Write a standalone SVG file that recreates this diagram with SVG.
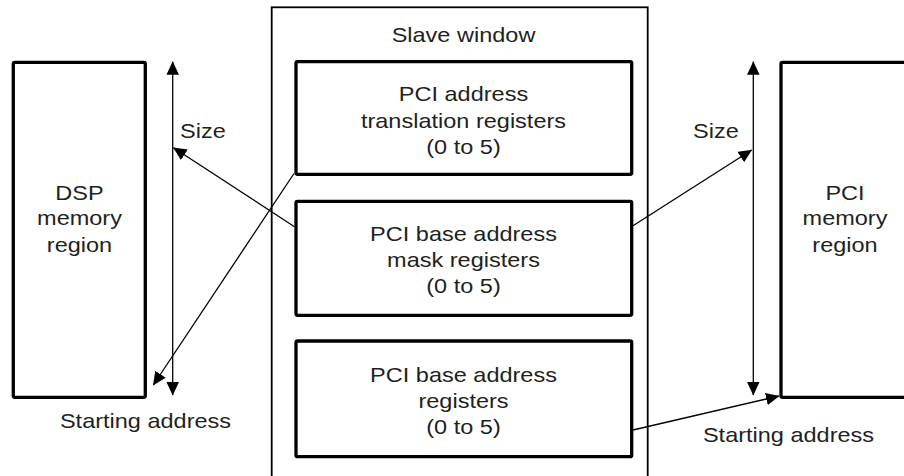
<svg xmlns="http://www.w3.org/2000/svg" width="904" height="476" viewBox="0 0 904 476">
<defs>
<marker id="ah" markerUnits="userSpaceOnUse" markerWidth="14" markerHeight="13" refX="13" refY="6.25" orient="auto-start-reverse" viewBox="0 0 14 13">
<path d="M0,0 L13.5,6.25 L0,12.5 z" fill="#000"/>
</marker>
<style>
.t{font-family:"Liberation Sans",Arial,sans-serif;font-size:21px;fill:#231f20;text-anchor:middle}
.tl{text-anchor:start}
.box{fill:#fff;stroke:#000;stroke-width:3.3}
.win{fill:#fff;stroke:#000;stroke-width:1.8}
.c{fill:none;stroke:#000;stroke-width:1.3}
</style>
</defs>
<rect width="904" height="476" fill="#fff"/>

<g id="slave-window">
<rect class="win" x="271.7" y="7.3" width="376" height="480"/>
<g transform="translate(463.5,0) scale(1.12,1)"><text class="t" x="0" y="41.7">Slave window</text></g>
</g>

<g id="pci-translation">
<rect class="box" x="296" y="61.7" width="335.7" height="112.6" rx="1.5"/>
<g transform="translate(463.5,0) scale(1.12,1)">
<text class="t" x="0" y="101.5">PCI address</text>
<text class="t" x="0" y="128">translation registers</text>
<text class="t" x="0" y="154.5">(0 to 5)</text>
</g>
</g>

<g id="pci-mask">
<rect class="box" x="296" y="201.3" width="335.7" height="114" rx="1.5"/>
<g transform="translate(463.5,0) scale(1.12,1)">
<text class="t" x="0" y="240.8">PCI base address</text>
<text class="t" x="0" y="267.3">mask registers</text>
<text class="t" x="0" y="293.5">(0 to 5)</text>
</g>
</g>

<g id="pci-base">
<rect class="box" x="296" y="341" width="335.7" height="115.7" rx="1.5"/>
<g transform="translate(463.5,0) scale(1.12,1)">
<text class="t" x="0" y="381.7">PCI base address</text>
<text class="t" x="0" y="408">registers</text>
<text class="t" x="0" y="434.3">(0 to 5)</text>
</g>
</g>

<g id="dsp-memory">
<rect class="box" x="13.3" y="62.3" width="132" height="335" rx="1.5"/>
<g transform="translate(79.5,0) scale(1.12,1)">
<text class="t" x="0" y="200">DSP</text>
<text class="t" x="0" y="225.5">memory</text>
<text class="t" x="0" y="252">region</text>
</g>
</g>

<g id="pci-memory">
<rect class="box" x="781" y="62.3" width="200" height="335" rx="1.5"/>
<g transform="translate(845,0) scale(1.12,1)">
<text class="t" x="0" y="200">PCI</text>
<text class="t" x="0" y="225.5">memory</text>
<text class="t" x="0" y="252">region</text>
</g>
</g>

<g id="labels">
<g transform="translate(180,0) scale(1.12,1)"><text class="t tl" x="0" y="138">Size</text></g>
<g transform="translate(693,0) scale(1.12,1)"><text class="t tl" x="0" y="138">Size</text></g>
<g transform="translate(145.5,0) scale(1.12,1)"><text class="t" x="0" y="428.3">Starting address</text></g>
<g transform="translate(788.5,0) scale(1.12,1)"><text class="t" x="0" y="442">Starting address</text></g>
</g>

<g id="connectors">
<line class="c" x1="172.7" y1="61.7" x2="172.7" y2="395" marker-start="url(#ah)" marker-end="url(#ah)"/>
<line class="c" x1="753.3" y1="61.7" x2="753.3" y2="395" marker-start="url(#ah)" marker-end="url(#ah)"/>
<line class="c" x1="294.5" y1="226.7" x2="173.5" y2="147.7" marker-end="url(#ah)"/>
<line class="c" x1="294" y1="173.5" x2="153.3" y2="385" marker-end="url(#ah)"/>
<line class="c" x1="633" y1="225.7" x2="751.7" y2="150" marker-end="url(#ah)"/>
<line class="c" x1="633" y1="430" x2="779" y2="396" marker-end="url(#ah)"/>
</g>
</svg>
